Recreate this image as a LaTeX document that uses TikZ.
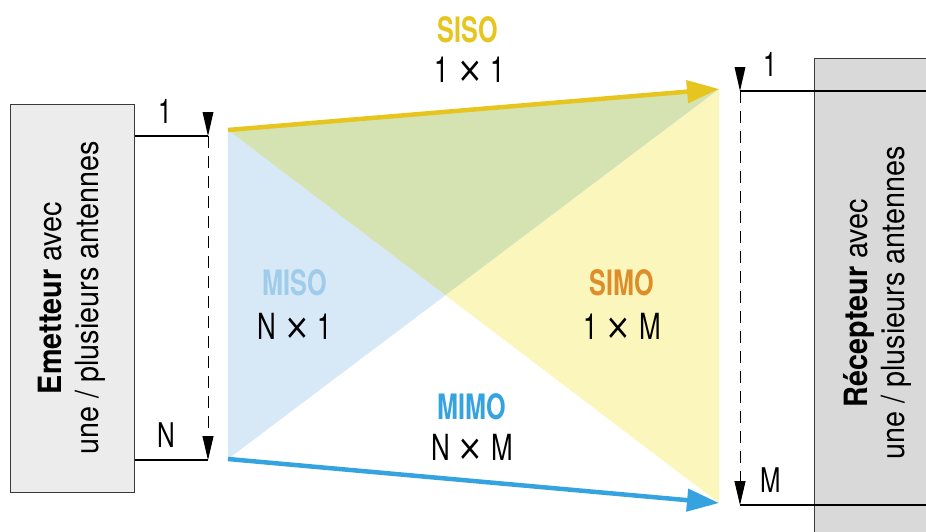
\documentclass[tikz,border=0pt]{standalone}
\usepackage{fontspec}
\setmainfont{TeX Gyre Heros}[FakeStretch=0.9]
\newfontfamily\labfont{TeX Gyre Heros}[FakeStretch=0.72]
\newfontfamily\symfont{DejaVu Sans}[FakeStretch=0.85]
\usetikzlibrary{arrows.meta}
\definecolor{sisoC}{HTML}{E6C61E}
\definecolor{mimoC}{HTML}{35A3E0}
\definecolor{misoC}{HTML}{A0CCEC}
\definecolor{simoC}{HTML}{DD8E2A}
\definecolor{blueF}{HTML}{D7E8F6}
\definecolor{yellowF}{HTML}{FBF7BC}
\definecolor{greenF}{HTML}{D5E3B3}
\definecolor{txF}{HTML}{ECECEC}
\definecolor{rxF}{HTML}{D9D9D9}
\definecolor{edgeC}{HTML}{3A3A3A}
\newcommand{\mytimes}{\hspace{0.22em}{\symfont ×}\hspace{0.22em}}
\tikzset{
  devbox/.style={draw=edgeC, line width=1pt, rotate=90, align=center, inner sep=0pt,
    font=\fontsize{32}{37}\selectfont},
  lab/.style={inner sep=0pt, font=\labfont\fontsize{36}{40}\selectfont},
  namelab/.style={inner sep=0pt, font=\labfont\bfseries\fontsize{35}{40}\selectfont},
  antlab/.style={inner sep=0pt, font=\labfont\fontsize{34}{40}\selectfont},
  antline/.style={line width=1.2pt, black},
  antdash/.style={line width=0.9pt, dash pattern=on 12pt off 8pt, -{Triangle[length=24pt,width=11pt]}},
  tri/.style={fill=black},
  sigarrow/.style={line width=4.5pt, -{Triangle[length=32pt,width=22pt]}}
}
\begin{document}
\begin{tikzpicture}[x=1pt,y=-1pt]
\clip (0,0) rectangle (926,531);
\fill[white] (0,0) rectangle (926,531);
% region corners
\coordinate (TL) at (228,130);
\coordinate (BL) at (228,459);
\coordinate (TR) at (719,89);
\coordinate (BR) at (719,503);
\coordinate (X) at (intersection of TL--BR and BL--TR);
\fill[blueF] (TL) -- (BL) -- (X) -- cycle;
\fill[yellowF] (TR) -- (BR) -- (X) -- cycle;
\fill[greenF] (TL) -- (TR) -- (X) -- cycle;
% devices
\node[devbox, fill=txF, minimum width=388pt, minimum height=124pt] (tx) at (72,298)
  {\textbf{Emetteur} avec\\une / plusieurs antennes};
\node[devbox, fill=rxF, minimum width=490pt, minimum height=126pt] (rx) at (877,303)
  {\textbf{Récepteur} avec\\une / plusieurs antennes};
% transmitter antennas
\coordinate (t1) at (208,136);
\coordinate (tN) at (208,460);
\coordinate (t1top) at (208,112);
\draw[antline] (t1 -| tx.south) -- (t1);
\draw[antline] (tN -| tx.south) -- (tN);
\draw[antdash] (t1) -- (tN);
\fill[tri] ([xshift=-5.5pt]t1top) -- ([xshift=5.5pt]t1top) -- (t1) -- cycle;
\node[antlab] (tl1) at (165,111) {1};
\node[antlab] (tlN) at (166,435) {N};
% receiver antennas
\coordinate (r1) at (740,91);
\coordinate (rM) at (740,505);
\coordinate (r1top) at (740,67);
\draw[antline] (r1 -| rx.south) -- (r1);
\draw[antline] (rM -| rx.south) -- (rM);
\draw[antdash] (r1) -- (rM);
\fill[tri] ([xshift=-5.5pt]r1top) -- ([xshift=5.5pt]r1top) -- (r1) -- cycle;
\node[antlab] (rl1) at (770,64) {1};
\node[antlab] (rlM) at (771,480) {M};
% signal arrows
\draw[sigarrow, sisoC] (TL) -- (TR);
\draw[sigarrow, mimoC] (BL) -- (BR);
% labels
\node[namelab, text=sisoC] (siso) at (468,30) {SISO};
\node[lab] (sisod) at (470,70) {1\mytimes 1};
\node[namelab, text=misoC] (miso) at (295,283) {MISO};
\node[lab] (misod) at (295,326) {N\mytimes 1};
\node[namelab, text=simoC] (simo) at (622,283) {SIMO};
\node[lab] (simod) at (622,326) {1\mytimes M};
\node[namelab, text=mimoC] (mimo) at (472,407) {MIMO};
\node[lab] (mimod) at (472,447) {N\mytimes M};
\end{tikzpicture}
\end{document}
